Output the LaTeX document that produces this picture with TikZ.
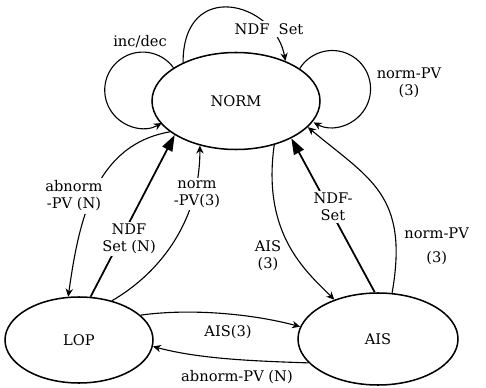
\documentclass[tikz,border=0pt]{standalone}
\usepackage{fontspec}
\setmainfont{DejaVu Serif}
\usetikzlibrary{shapes.geometric,arrows.meta}
\begin{document}
\begin{tikzpicture}[
    font=\fontsize{12.5}{14.5}\selectfont,
    state/.style={ellipse, draw, line width=1.3pt, inner sep=0pt},
    arrow/.style={-{Stealth[length=2.4mm,width=2.2mm]}, line width=0.95pt},
    bigarrow/.style={-{Triangle[length=4.8mm,width=3.3mm]}, line width=1.5pt},
    lbl/.style={align=center, inner sep=1pt},
    cover/.style={lbl, fill=white, inner sep=2pt}
]
    \useasboundingbox (0, 0) rectangle (14.58, -11.64);

    % States
    \node[state, minimum width=5.04cm, minimum height=2.91cm] (norm) at (7.08, -3.03) {NORM};
    \node[state, minimum width=4.44cm, minimum height=2.58cm] (lop) at (2.37, -10.2) {LOP};
    \node[state, minimum width=4.8cm, minimum height=2.76cm] (ais) at (11.34, -10.17) {AIS};

    % Loops on NORM
    \draw[arrow] (norm.152) arc[start angle=36, end angle=300, radius=1.14cm];
    \draw[arrow] (norm.27) arc[start angle=148, end angle=-119, radius=1.15cm];
    \draw[arrow] (norm.144) .. controls +(90:2.55) and +(100:1.8) .. (norm.39);

    % NORM and LOP
    \draw[arrow] (norm.205) .. controls +(190:2.3) and +(82:2.3) .. (lop.104);
    \draw[bigarrow] (lop.75) -- (norm.209);
    \draw[arrow] (lop.50) .. controls +(30:1.5) and +(-90:2.4) .. (norm.231);

    % NORM and AIS
    \draw[arrow] (norm.311) .. controls +(-98:2.7) and +(135:1.2) .. (ais.138);
    \draw[bigarrow] (ais.94) -- (norm.326);
    \draw[arrow] (ais.73) .. controls +(80:3) and +(320:2.4) .. (norm.340);

    % LOP and AIS
    \draw[arrow] (lop.22) .. controls +(8:1.5) and +(165:1.5) .. (ais.171);
    \draw[arrow] (ais.199) .. controls +(178:1.5) and +(-15:1.5) .. (lop.355);

    % Labels
    \node[lbl] (lblIncDec) at (4.2, -1.26) {inc/dec};
    \node[cover] (lblNdfTop) at (8.07, -0.87) {NDF\ \ Set};
    \node[lbl] (lblNormLoop) at (12.27, -2.49) {norm-PV\\(3)};
    \node[cover] (lblAbnorm) at (2.22, -5.88) {abnorm\\-PV (N)};
    \node[cover] (lblNdfN) at (3.87, -7.17) {NDF\\Set (N)};
    \node[cover] (lblNormLop) at (5.91, -5.82) {norm\\-PV(3)};
    \node[lbl] (lblAisLeft) at (8.04, -7.68) {AIS\\(3)};
    \node[cover] (lblNdfAis) at (9.99, -6.21) {NDF-\\Set};
    \node[lbl] (lblNormAis) at (13.1, -7.38) {norm-PV\\[6pt](3)};
    \node[lbl] (lblAisBot) at (6.84, -9.96) {AIS(3)};
    \node[lbl] (lblAbnormBot) at (7.11, -11.31) {abnorm-PV (N)};
\end{tikzpicture}
\end{document}
